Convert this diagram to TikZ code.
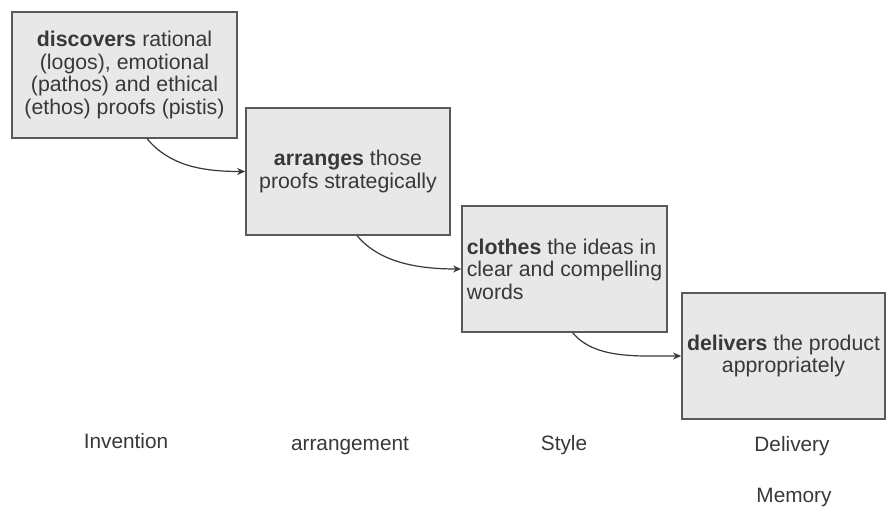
\documentclass[tikz,border=0pt]{standalone}
\usepackage{fontspec}
\setmainfont{Liberation Sans}
\usetikzlibrary{calc,arrows.meta}
\definecolor{boxfill}{HTML}{E8E8E8}
\definecolor{boxline}{HTML}{595959}
\definecolor{txt}{HTML}{383838}
\tikzset{
  stagebox/.style={draw=boxline, line width=1.8pt, fill=boxfill, inner sep=0pt,
    text=txt, font=\fontsize{21.3}{22.6}\selectfont},
  lbl/.style={text=txt, font=\fontsize{20.8}{22}\selectfont, inner sep=0pt},
  conn/.style={draw=txt, line width=1.2pt, -{Stealth[length=8pt,width=7pt]}}
}
\begin{document}
\begin{tikzpicture}[x=1pt,y=-1pt]
\useasboundingbox (0,0) rectangle (886,508);
\node[stagebox, minimum width=225pt, minimum height=126pt, align=center] (b1) at (124.5,75)
  {\textbf{discovers} rational\\(logos), emotional\\(pathos) and ethical\\(ethos) proofs (pistis)};
\node[stagebox, minimum width=204pt, minimum height=127pt, align=center] (b2) at (348,171.5)
  {\textbf{arranges} those\\proofs strategically};
\node[stagebox, minimum width=205pt, minimum height=126pt, align=left] (b3) at (564.5,269)
  {\textbf{clothes} the ideas in\\clear and compelling\\words};
\node[stagebox, minimum width=203pt, minimum height=126pt, align=center] (b4) at (783.5,356)
  {\textbf{delivers} the product\\appropriately};
\draw[conn] ($(b1.south west)!0.6!(b1.south east)$) .. controls +(22,26) and +(-45,0) .. (b2.west);
\draw[conn] ($(b2.south west)!0.545!(b2.south east)$) .. controls +(22,26) and +(-45,0) .. (b3.west);
\draw[conn] ($(b3.south west)!0.54!(b3.south east)$) .. controls +(22,26) and +(-45,0) .. (b4.west);
\node[lbl] (l1) at (126,441) {Invention};
\node[lbl] (l2) at (350,446) {arrangement};
\node[lbl] (l3) at (564,445) {Style};
\node[lbl] (l4) at (792,446) {Delivery};
\node[lbl] (l5) at (794,497) {Memory};
\end{tikzpicture}
\end{document}
